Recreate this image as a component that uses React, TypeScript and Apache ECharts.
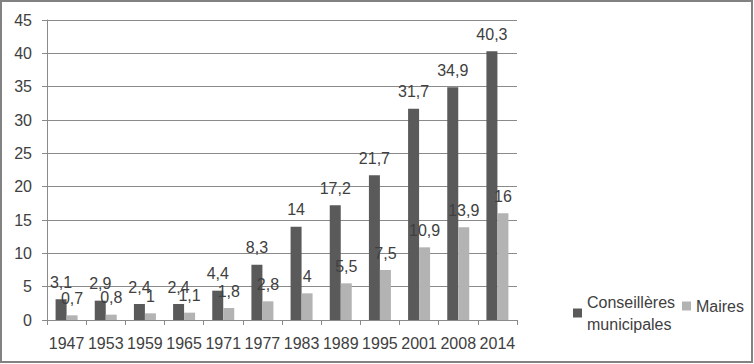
import React, { useEffect, useRef } from "react";
import * as echarts from "echarts";

const years = ["1947", "1953", "1959", "1965", "1971", "1977", "1983", "1989", "1995", "2001", "2008", "2014"];
const conseilleres = [3.1, 2.9, 2.4, 2.4, 4.4, 8.3, 14, 17.2, 21.7, 31.7, 34.9, 40.3];
const maires = [0.7, 0.8, 1, 1.1, 1.8, 2.8, 4, 5.5, 7.5, 10.9, 13.9, 16];
const seriesNames = ["Conseillères municipales", "Maires"];

const FONT = "'Liberation Sans', Arial, sans-serif";
const TEXT = "#404040";
const LINE = "#8a8a8a";
const FS = 16;

export default function App() {
  const ref = useRef<HTMLDivElement>(null);
  useEffect(() => {
    document.body.style.margin = "0";
    if (!ref.current) return;
    const chart = echarts.init(ref.current, undefined, { renderer: "svg" });
    const fmt = (p: any) => String(p.value).replace(".", ",");
    chart.setOption({
      animation: false,
      backgroundColor: "#ffffff",
      textStyle: { fontFamily: FONT },
      grid: { left: 47, right: 237, top: 20, bottom: 44 },
      graphic: [
        {
          type: "rect",
          shape: { x: 1, y: 1, width: 751, height: 361 },
          style: { fill: "none", stroke: "#828282", lineWidth: 2 },
          silent: true,
        },
      ],
      xAxis: {
        type: "category",
        data: years,
        boundaryGap: true,
        axisLine: { show: true, lineStyle: { color: LINE, width: 1 } },
        axisTick: { show: true, length: 5, lineStyle: { color: LINE } },
        axisLabel: { color: TEXT, fontSize: FS, fontFamily: FONT, margin: 15, interval: 0 },
      },
      yAxis: {
        type: "value",
        min: 0,
        max: 45,
        interval: 5,
        axisLine: { show: true, lineStyle: { color: LINE, width: 1 } },
        axisTick: { show: true, length: 5, lineStyle: { color: LINE } },
        splitLine: { show: true, lineStyle: { color: LINE, width: 1 } },
        axisLabel: { color: TEXT, fontSize: FS, fontFamily: FONT, margin: 15 },
      },
      legend: [
        {
          data: [seriesNames[0]],
          left: 573,
          top: 280,
          padding: 0,
          itemWidth: 9,
          itemHeight: 9,
          itemGap: 0,
          icon: "rect",
          formatter: () => "Conseillères\nmunicipales",
          textStyle: { color: TEXT, fontSize: FS, fontFamily: FONT, lineHeight: 22, padding: [22, 0, 0, 0] },
        },
        {
          data: [seriesNames[1]],
          left: 682,
          top: 295,
          padding: 0,
          itemWidth: 9,
          itemHeight: 9,
          icon: "rect",
          textStyle: { color: TEXT, fontSize: FS, fontFamily: FONT, lineHeight: 22 },
        },
      ],
      series: [
        {
          name: seriesNames[0],
          type: "bar",
          data: conseilleres,
          barWidth: 11,
          barGap: "0%",
          itemStyle: { color: "#5a5a5a" },
          label: { show: true, position: "top", distance: 9, color: TEXT, fontSize: FS, fontFamily: FONT, formatter: fmt },
        },
        {
          name: seriesNames[1],
          type: "bar",
          data: maires,
          barWidth: 11,
          barGap: "0%",
          itemStyle: { color: "#b3b3b3" },
          label: { show: true, position: "top", distance: 9, color: TEXT, fontSize: FS, fontFamily: FONT, formatter: fmt },
        },
      ],
    });
    return () => chart.dispose();
  }, []);
  return <div ref={ref} style={{ width: 754, height: 364 }} />;
}
